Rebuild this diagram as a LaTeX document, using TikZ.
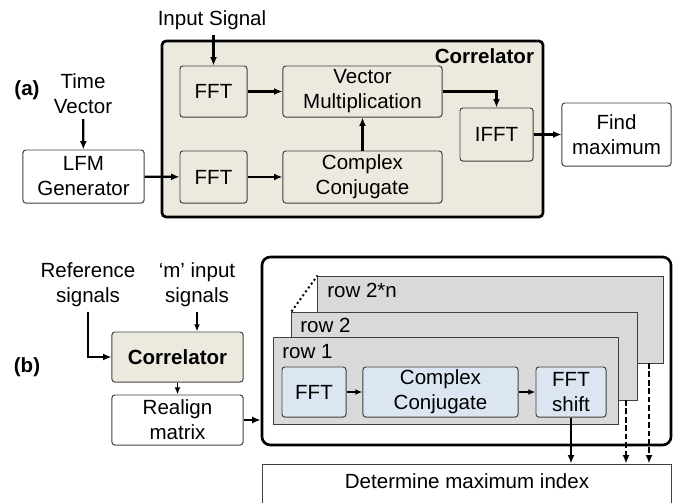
\documentclass[tikz,border=0pt]{standalone}
\usepackage{fontspec}
\setmainfont{Liberation Sans}
\usetikzlibrary{arrows.meta,positioning}

\definecolor{corrfill}{RGB}{236,233,223}
\definecolor{rowfill}{RGB}{217,217,217}
\definecolor{opfill}{RGB}{220,230,242}
\definecolor{edgegray}{RGB}{64,64,64}

\begin{document}
\begin{tikzpicture}[x=0.025cm,y=-0.025cm,
  font=\fontsize{14.6}{17.8}\selectfont,
  box/.style={draw=edgegray,line width=0.7pt,rounded corners=2pt,align=center,inner sep=1pt},
  frame/.style={draw=black,line width=1.9pt,rounded corners=3pt},
  rowbox/.style={draw=edgegray,line width=0.7pt,fill=rowfill},
  opbox/.style={box,fill=opfill},
  arr/.style={-{Latex[length=6pt,width=5pt]},line width=1.6pt},
  thinarr/.style={-{Latex[length=5pt,width=4pt]},line width=1.1pt},
  dasharr/.style={arr,dash pattern=on 4pt off 2pt}]
\useasboundingbox (0,0) rectangle (691,502);
\clip (0,0) rectangle (691,502);

\node[frame,fill=corrfill,minimum width=9.525cm,minimum height=4.4cm] (corrA) at (352.5,129) {};
\node[anchor=east,font=\fontsize{14.6}{17.8}\selectfont\bfseries] (corrAlbl) at (539,56) {Correlator};

\node (input) at (212,20) {Input Signal};
\node[align=center] (timevec) at (83,94) {Time\\Vector};
\node[font=\fontsize{14.6}{17.8}\selectfont\bfseries] (parta) at (27,90) {(a)};

\node[box,fill=corrfill,minimum width=1.675cm,minimum height=1.275cm] (fftA) at (213.5,91.5) {FFT};
\node[box,fill=corrfill,minimum width=3.975cm,minimum height=1.275cm] (vmul) at (362.5,91.5) {Vector\\Multiplication};
\node[box,fill=corrfill,minimum width=1.675cm,minimum height=1.3cm] (fftB) at (213.5,177) {FFT};
\node[box,fill=corrfill,minimum width=3.975cm,minimum height=1.3cm] (conj) at (362.5,177) {Complex\\Conjugate};
\node[box,fill=corrfill,minimum width=1.825cm,minimum height=1.325cm] (ifft) at (496.5,134.5) {IFFT};
\node[box,fill=white,minimum width=2.725cm,minimum height=1.575cm] (findmax) at (616.5,134.5) {Find\\maximum};
\node[box,fill=white,minimum width=3.025cm,minimum height=1.325cm] (lfm) at (83.5,176.5) {LFM\\Generator};

\draw[arr] (input.south -| fftA.north) -- (fftA.north);
\draw[arr] (timevec) -- (lfm);
\draw[arr] (lfm) -- (fftB);
\draw[arr] (fftA) -- (vmul);
\draw[arr] (fftB) -- (conj);
\draw[arr] (conj) -- (vmul);
\draw[arr] (vmul.east) -| (ifft.north);
\draw[arr] (ifft) -- (findmax);

\node[align=center] (refsig) at (88,285) {Reference\\signals};
\node[align=center] (minput) at (197,285) {‘m’ input\\signals};
\node[font=\fontsize{14.6}{17.8}\selectfont\bfseries] (partb) at (27,367) {(b)};
\node[box,fill=corrfill,minimum width=3.275cm,minimum height=1.25cm,font=\fontsize{14.6}{17.8}\selectfont\bfseries] (corrB) at (177.5,357) {Correlator};
\node[box,fill=white,minimum width=3.275cm,minimum height=1.25cm] (realign) at (177.5,420) {Realign\\matrix};

\node[frame,rounded corners=6pt,minimum width=10.225cm,minimum height=4.7cm] (outer) at (466.5,351) {};
\node[rowbox,minimum width=8.625cm,minimum height=2.175cm] (rowN) at (490.5,319.5) {};
\node[rowbox,minimum width=8.625cm,minimum height=2.2cm] (row2) at (464.5,356) {};
\node[rowbox,minimum width=8.6cm,minimum height=2.175cm] (row1) at (446,380.5) {};
\node[anchor=west,inner sep=0pt] (rowNlbl) at (327,290) {row 2*n};
\node[anchor=west,inner sep=0pt] (row2lbl) at (300,325) {row 2};
\node[anchor=west,inner sep=0pt] (row1lbl) at (282,352) {row 1};

\node[opbox,minimum width=1.6cm,minimum height=1.25cm] (fftC) at (314,392) {FFT};
\node[opbox,minimum width=3.875cm,minimum height=1.25cm] (conjB) at (440.5,392) {Complex\\Conjugate};
\node[opbox,minimum width=1.75cm,minimum height=1.25cm] (shift) at (571,392) {FFT\\shift};

\node[box,rounded corners=0pt,fill=white,minimum width=10.2cm,minimum height=1.4cm] (detmax) at (467,492) {};
\node (dettext) at (467,481) {Determine maximum index};

\coordinate (d2) at (626,400);
\coordinate (dn) at (649,363);

\draw[arr] (refsig.south) |- (corrB.west);
\draw[thinarr] (minput.south) -- (minput.south |- corrB.north);
\draw[thinarr] (corrB) -- (realign);
\draw[arr] (realign) -- (realign -| outer.west);
\draw[dotted,line width=1.4pt] (row2.north west) -- (rowN.north west);
\draw[thinarr] (fftC) -- (conjB);
\draw[thinarr] (conjB) -- (shift);
\draw[arr] (shift.south) -- (shift.south |- detmax.north);
\draw[dasharr] (d2) -- (d2 |- detmax.north);
\draw[dasharr] (dn) -- (dn |- detmax.north);
\end{tikzpicture}
\end{document}
